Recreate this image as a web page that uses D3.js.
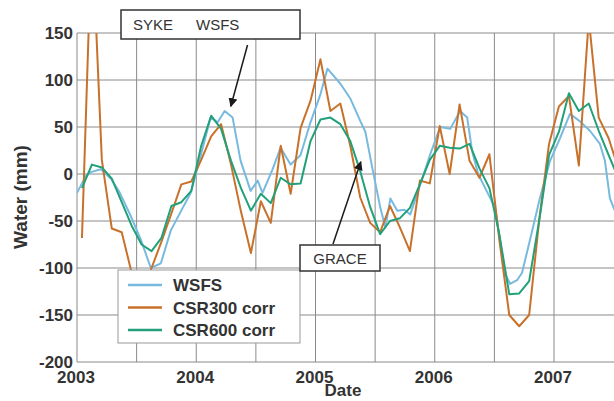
<!DOCTYPE html>
<html>
<head>
<meta charset="utf-8">
<script src="https://cdn.jsdelivr.net/npm/d3@7"></script>
<style>
  body { margin: 0; background: #fff; }
  svg text { font-family: Arial, "Liberation Sans", sans-serif; }
</style>
</head>
<body>
<div id="chart"></div>
<script>
// monthly GRACE solutions, one value per month starting Jan 2003
var csr300 = [-68, 260, 15, -58, -62, -105, -130, -100, -72, -42, -11, -8,
              15, 40, 53, 10, -40, -84, -29, -52, 30, -21, 49, 78,
              122, 67, 75, 30, -25, -52, -62, -34, -57, -82, -7, -10,
              51, 0, 74, 14, -4, 21, -70, -150, -162, -150, -50, 32,
              72, 83, 9, 165, 60, 38, 5];
var csr600 = [-15, 10, 7, -5, -30, -55, -75, -82, -68, -34, -30, -18,
              30, 62, 48, 14, -15, -39, -21, -31, -4, -11, -10, 35,
              58, 60, 53, 35, 3, -35, -64, -50, -47, -36, -11, 15,
              30, 28, 27, 32, 6, -15, -64, -128, -127, -114, -50, 20,
              45, 86, 67, 75, 46, 20, -5];
// SYKE WSFS model, irregular dates (decimal year)
var wsfsT = [2003.00, 2003.075, 2003.117, 2003.20, 2003.285, 2003.351, 2003.452, 2003.536,
             2003.619, 2003.703, 2003.787, 2003.870, 2003.954, 2004.038, 2004.121, 2004.18,
             2004.238, 2004.305, 2004.372, 2004.456, 2004.515, 2004.556, 2004.640, 2004.707,
             2004.791, 2004.874, 2004.958, 2005.042, 2005.100, 2005.209, 2005.293, 2005.377,
             2005.418, 2005.477, 2005.544, 2005.586, 2005.628, 2005.686, 2005.745, 2005.795,
             2005.879, 2005.962, 2006.046, 2006.130, 2006.213, 2006.272, 2006.314, 2006.364,
             2006.423, 2006.506, 2006.590, 2006.632, 2006.690, 2006.732, 2006.799, 2006.883,
             2006.967, 2007.050, 2007.134, 2007.218, 2007.301, 2007.385, 2007.427, 2007.469,
             2007.536];
var wsfsV = [-20, -2, 2, 5, -5, -18, -45, -70,
             -100, -95, -60, -40, -20, 20, 60, 55,
             67, 60, 14, -18, -7, -20, 5, 28,
             10, 20, 55, 85, 112, 96, 80, 56,
             45, 6, -36, -57, -26, -39, -38, -43,
             -11, 21, 50, 48, 67, 60, 24, 0,
             -15, -36, -106, -117, -113, -105, -70, -25,
             14, 38, 64, 56, 46, 32, 14, -26,
             -47];

var seriesNames = ['WSFS', 'CSR300 corr', 'CSR600 corr'];
var seriesColors = ['#78badf', '#c8712b', '#22a079'];
var xTicks = [2003, 2004, 2005, 2006, 2007];
var yTicks = [150, 100, 50, 0, -50, -100, -150, -200];

var width = 614, height = 401;
var x = d3.scaleLinear().domain([2003, 2007]).range([77, 554]);
var y = d3.scaleLinear().domain([-200, 150]).range([362, 33]);

var svg = d3.select('#chart').append('svg')
  .attr('width', width)
  .attr('height', height);

svg.append('defs').append('clipPath').attr('id', 'plot')
  .append('rect')
  .attr('x', x(2003)).attr('y', y(150))
  .attr('width', width - x(2003)).attr('height', y(-200) - y(150));

var marker = svg.select('defs').append('marker')
  .attr('id', 'head')
  .attr('viewBox', '0 0 10 10')
  .attr('refX', 9).attr('refY', 5)
  .attr('markerWidth', 6).attr('markerHeight', 6)
  .attr('orient', 'auto');
marker.append('path').attr('d', 'M0,0 L10,5 L0,10 z').attr('fill', '#1a1a1a');

// grid
var grid = svg.append('g').attr('stroke', '#8a8a8a').attr('stroke-width', 1);
grid.selectAll('line.h').data(yTicks).enter().append('line')
  .attr('class', 'h')
  .attr('x1', x(2003)).attr('x2', width)
  .attr('y1', function(d){ return y(d) }).attr('y2', function(d){ return y(d) });
grid.selectAll('line.v').data(d3.range(2003, 2007.5, 0.5)).enter().append('line')
  .attr('class', 'v')
  .attr('x1', function(d){ return x(d) }).attr('x2', function(d){ return x(d) })
  .attr('y1', y(150)).attr('y2', y(-200));

// series
var monthT = function(i){ return 2003 + (i + 0.5) / 12 };
var data = [
  wsfsT.map(function(t, i){ return [t, wsfsV[i]] }),
  csr300.map(function(v, i){ return [monthT(i), v] }),
  csr600.map(function(v, i){ return [monthT(i), v] })
];
var line = d3.line()
  .x(function(d){ return x(d[0]) })
  .y(function(d){ return y(d[1]) });

svg.append('g').attr('clip-path', 'url(#plot)')
  .selectAll('path').data(data).enter().append('path')
  .attr('d', line)
  .attr('fill', 'none')
  .attr('stroke', function(d, i){ return seriesColors[i] })
  .attr('stroke-width', 2)
  .attr('stroke-linejoin', 'round');

// axis labels
svg.append('g').selectAll('text').data(yTicks).enter().append('text')
  .attr('x', 73)
  .attr('y', function(d){ return y(d) + 6 })
  .attr('text-anchor', 'end')
  .attr('font-size', 17).attr('font-weight', 'bold').attr('fill', '#333')
  .text(function(d){ return d });
svg.append('g').selectAll('text').data(xTicks).enter().append('text')
  .attr('x', function(d){ return x(d) - 1 })
  .attr('y', 383)
  .attr('text-anchor', 'middle')
  .attr('font-size', 17).attr('font-weight', 'bold').attr('fill', '#333')
  .text(function(d){ return d });
svg.append('text')
  .attr('x', 343).attr('y', 396)
  .attr('text-anchor', 'middle')
  .attr('font-size', 17).attr('font-weight', 'bold').attr('fill', '#333')
  .text('Date');
svg.append('text')
  .attr('transform', 'translate(27,' + 197 + ') rotate(-90)')
  .attr('text-anchor', 'middle')
  .attr('font-size', 19).attr('font-weight', 'bold').attr('fill', '#333')
  .text('Water (mm)');

// legend
var legend = svg.append('g');
legend.append('rect')
  .attr('x', 118).attr('y', 270).attr('width', 182).attr('height', 73)
  .attr('fill', '#fff').attr('stroke', '#999');
var items = legend.selectAll('g').data(seriesNames).enter().append('g')
  .attr('transform', function(d, i){ return 'translate(0,' + (285 + i * 22.5) + ')' });
items.append('line')
  .attr('x1', 128).attr('x2', 162)
  .attr('stroke', function(d, i){ return seriesColors[i] })
  .attr('stroke-width', 2.5);
items.append('text')
  .attr('x', 173).attr('y', 6)
  .attr('font-size', 17).attr('font-weight', 'bold').attr('fill', '#333')
  .text(function(d){ return d });

// annotations
var note = svg.append('g');
note.append('rect')
  .attr('x', 121).attr('y', 10).attr('width', 179).attr('height', 29)
  .attr('fill', '#fff').attr('stroke', '#333').attr('stroke-width', 1.5);
note.append('text').attr('x', 133).attr('y', 30)
  .attr('font-size', 15).attr('fill', '#333').text('SYKE');
note.append('text').attr('x', 196).attr('y', 30)
  .attr('font-size', 15).attr('fill', '#333').text('WSFS');
note.append('line')
  .attr('x1', x(2004.43)).attr('y1', 45)
  .attr('x2', x(2004.29)).attr('y2', y(72))
  .attr('stroke', '#1a1a1a').attr('stroke-width', 1.5)
  .attr('marker-end', 'url(#head)');

note.append('rect')
  .attr('x', 300).attr('y', 245).attr('width', 80).attr('height', 26)
  .attr('fill', '#fff').attr('stroke', '#333').attr('stroke-width', 1.5);
note.append('text').attr('x', 340).attr('y', 264)
  .attr('text-anchor', 'middle')
  .attr('font-size', 15).attr('fill', '#333').text('GRACE');
note.append('line')
  .attr('x1', 333).attr('y1', 244)
  .attr('x2', x(2005.38)).attr('y2', y(13))
  .attr('stroke', '#1a1a1a').attr('stroke-width', 1.5)
  .attr('marker-end', 'url(#head)');
</script>
</body>
</html>
